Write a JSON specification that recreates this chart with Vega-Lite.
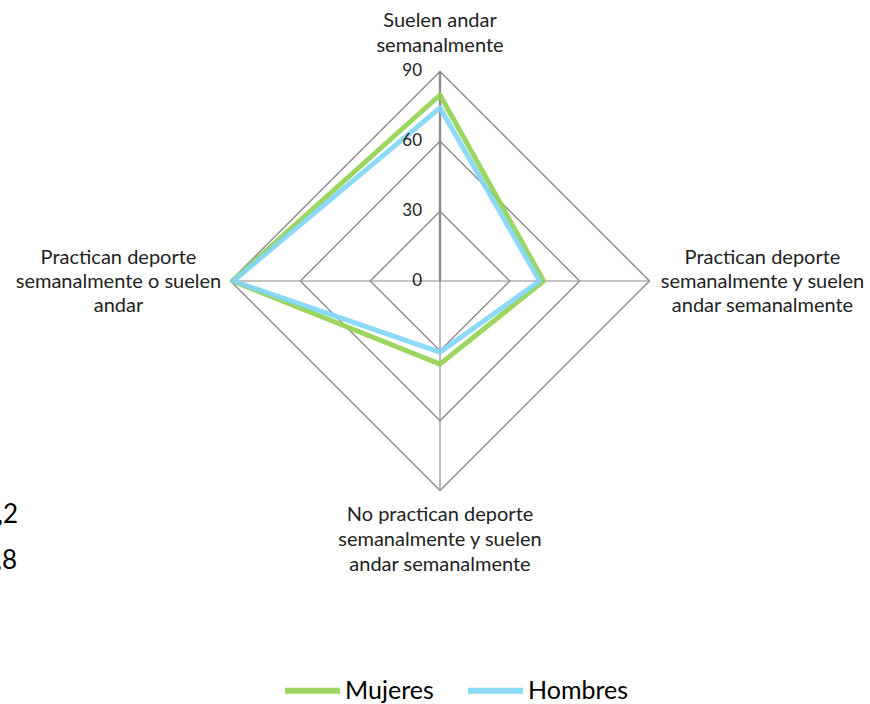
{
  "$schema": "https://vega.github.io/schema/vega-lite/v6.json",
  "width": 870,
  "height": 704,
  "padding": 0,
  "autosize": "none",
  "background": "white",
  "config": {
    "view": {"stroke": null},
    "font": "Lato",
    "legend": {
      "orient": "none",
      "legendX": 282,
      "legendY": 660,
      "direction": "horizontal",
      "symbolType": "stroke",
      "symbolSize": 3025,
      "symbolStrokeWidth": 6,
      "labelFont": "Lato",
      "labelFontSize": 25,
      "labelColor": "#000000",
      "labelOffset": 2,
      "columnPadding": 22,
      "padding": 0,
      "title": null
    }
  },
  "datasets": {
    "series": [
      {"serie": "Mujeres", "eje": "Suelen andar semanalmente", "orden": 0, "valor": 79.9},
      {"serie": "Mujeres", "eje": "Practican deporte semanalmente y suelen andar semanalmente", "orden": 1, "valor": 44.5},
      {"serie": "Mujeres", "eje": "No practican deporte semanalmente y suelen andar semanalmente", "orden": 2, "valor": 35.7},
      {"serie": "Mujeres", "eje": "Practican deporte semanalmente o suelen andar", "orden": 3, "valor": 89.2},
      {"serie": "Hombres", "eje": "Suelen andar semanalmente", "orden": 0, "valor": 74.4},
      {"serie": "Hombres", "eje": "Practican deporte semanalmente y suelen andar semanalmente", "orden": 1, "valor": 42.8},
      {"serie": "Hombres", "eje": "No practican deporte semanalmente y suelen andar semanalmente", "orden": 2, "valor": 30.6},
      {"serie": "Hombres", "eje": "Practican deporte semanalmente o suelen andar", "orden": 3, "valor": 88.8}
    ],
    "ejes": [
      {"orden": 0, "etiqueta": "Suelen andar\nsemanalmente"},
      {"orden": 1, "etiqueta": "Practican deporte\nsemanalmente y suelen\nandar semanalmente"},
      {"orden": 2, "etiqueta": "No practican deporte\nsemanalmente y suelen\nandar semanalmente"},
      {"orden": 3, "etiqueta": "Practican deporte\nsemanalmente o suelen\nandar"}
    ],
    "niveles": [{"nivel": 0}, {"nivel": 30}, {"nivel": 60}, {"nivel": 90}],
    "rejilla": [
      {"nivel": 30, "orden": 0}, {"nivel": 30, "orden": 1}, {"nivel": 30, "orden": 2}, {"nivel": 30, "orden": 3},
      {"nivel": 60, "orden": 0}, {"nivel": 60, "orden": 1}, {"nivel": 60, "orden": 2}, {"nivel": 60, "orden": 3},
      {"nivel": 90, "orden": 0}, {"nivel": 90, "orden": 1}, {"nivel": 90, "orden": 2}, {"nivel": 90, "orden": 3}
    ]
  },
  "layer": [
    {
      "data": {"name": "rejilla"},
      "transform": [
        {"calculate": "datum.nivel * sin(datum.orden * PI / 2)", "as": "px"},
        {"calculate": "datum.nivel * cos(datum.orden * PI / 2)", "as": "py"}
      ],
      "mark": {"type": "line", "interpolate": "linear-closed", "color": "#8C8C8C", "strokeWidth": 1.4},
      "encoding": {
        "x": {"field": "px", "type": "quantitative", "scale": {"domain": [-189.02, 184.72], "nice": false, "zero": false}, "axis": null},
        "y": {"field": "py", "type": "quantitative", "scale": {"domain": [-181.72, 120.71], "nice": false, "zero": false}, "axis": null},
        "detail": {"field": "nivel", "type": "nominal"},
        "order": {"field": "orden", "type": "quantitative"}
      }
    },
    {
      "data": {"name": "ejes"},
      "transform": [
        {"calculate": "90 * sin(datum.orden * PI / 2)", "as": "px"},
        {"calculate": "90 * cos(datum.orden * PI / 2)", "as": "py"}
      ],
      "mark": {"type": "rule", "color": "#8C8C8C"},
      "encoding": {
        "x": {"field": "px", "type": "quantitative", "scale": {"domain": [-189.02, 184.72], "nice": false, "zero": false}, "axis": null},
        "y": {"field": "py", "type": "quantitative", "scale": {"domain": [-181.72, 120.71], "nice": false, "zero": false}, "axis": null},
        "x2": {"datum": 0},
        "y2": {"datum": 0},
        "strokeWidth": {"condition": {"test": "datum.orden === 0", "value": 2.4}, "value": 1.2}
      }
    },
    {
      "data": {"name": "series"},
      "transform": [
        {"calculate": "datum.valor * sin(datum.orden * PI / 2)", "as": "px"},
        {"calculate": "datum.valor * cos(datum.orden * PI / 2)", "as": "py"}
      ],
      "mark": {"type": "line", "interpolate": "linear-closed", "strokeWidth": 5, "strokeJoin": "round", "opacity": 0.9},
      "encoding": {
        "x": {"field": "px", "type": "quantitative", "scale": {"domain": [-189.02, 184.72], "nice": false, "zero": false}, "axis": null},
        "y": {"field": "py", "type": "quantitative", "scale": {"domain": [-181.72, 120.71], "nice": false, "zero": false}, "axis": null},
        "color": {"field": "serie", "type": "nominal", "scale": {"domain": ["Mujeres", "Hombres"], "range": ["#92D050", "#7FD6F7"]}},
        "order": {"field": "orden", "type": "quantitative"}
      }
    },
    {
      "data": {"name": "niveles"},
      "mark": {"type": "text", "align": "right", "baseline": "middle", "dx": -18, "fontSize": 17, "font": "Lato", "color": "#222222"},
      "encoding": {
        "x": {"datum": 0, "type": "quantitative", "scale": {"domain": [-189.02, 184.72], "nice": false, "zero": false}, "axis": null},
        "y": {"field": "nivel", "type": "quantitative", "scale": {"domain": [-181.72, 120.71], "nice": false, "zero": false}, "axis": null},
        "text": {"field": "nivel", "type": "quantitative"}
      }
    },
    {
      "data": {"name": "ejes"},
      "transform": [
        {"filter": "datum.orden === 0"},
        {"calculate": "90 * sin(datum.orden * PI / 2)", "as": "px"},
        {"calculate": "90 * cos(datum.orden * PI / 2)", "as": "py"}
      ],
      "mark": {"type": "text", "align": "center", "baseline": "middle", "dy": -50, "fontSize": 20, "lineHeight": 24.5, "lineBreak": "\n", "font": "Lato", "color": "#222222"},
      "encoding": {
        "x": {"field": "px", "type": "quantitative", "scale": {"domain": [-189.02, 184.72], "nice": false, "zero": false}, "axis": null},
        "y": {"field": "py", "type": "quantitative", "scale": {"domain": [-181.72, 120.71], "nice": false, "zero": false}, "axis": null},
        "text": {"field": "etiqueta", "type": "nominal"}
      }
    },
    {
      "data": {"name": "ejes"},
      "transform": [
        {"filter": "datum.orden === 1"},
        {"calculate": "90 * sin(datum.orden * PI / 2)", "as": "px"},
        {"calculate": "90 * cos(datum.orden * PI / 2)", "as": "py"}
      ],
      "mark": {"type": "text", "align": "center", "baseline": "middle", "dx": 113, "dy": -23, "fontSize": 20, "lineHeight": 24, "lineBreak": "\n", "font": "Lato", "color": "#222222"},
      "encoding": {
        "x": {"field": "px", "type": "quantitative", "scale": {"domain": [-189.02, 184.72], "nice": false, "zero": false}, "axis": null},
        "y": {"field": "py", "type": "quantitative", "scale": {"domain": [-181.72, 120.71], "nice": false, "zero": false}, "axis": null},
        "text": {"field": "etiqueta", "type": "nominal"}
      }
    },
    {
      "data": {"name": "ejes"},
      "transform": [
        {"filter": "datum.orden === 2"},
        {"calculate": "90 * sin(datum.orden * PI / 2)", "as": "px"},
        {"calculate": "90 * cos(datum.orden * PI / 2)", "as": "py"}
      ],
      "mark": {"type": "text", "align": "center", "baseline": "middle", "dy": 25, "fontSize": 20, "lineHeight": 25, "lineBreak": "\n", "font": "Lato", "color": "#222222"},
      "encoding": {
        "x": {"field": "px", "type": "quantitative", "scale": {"domain": [-189.02, 184.72], "nice": false, "zero": false}, "axis": null},
        "y": {"field": "py", "type": "quantitative", "scale": {"domain": [-181.72, 120.71], "nice": false, "zero": false}, "axis": null},
        "text": {"field": "etiqueta", "type": "nominal"}
      }
    },
    {
      "data": {"name": "ejes"},
      "transform": [
        {"filter": "datum.orden === 3"},
        {"calculate": "90 * sin(datum.orden * PI / 2)", "as": "px"},
        {"calculate": "90 * cos(datum.orden * PI / 2)", "as": "py"}
      ],
      "mark": {"type": "text", "align": "center", "baseline": "middle", "dx": -112, "dy": -23, "fontSize": 20, "lineHeight": 24, "lineBreak": "\n", "font": "Lato", "color": "#222222"},
      "encoding": {
        "x": {"field": "px", "type": "quantitative", "scale": {"domain": [-189.02, 184.72], "nice": false, "zero": false}, "axis": null},
        "y": {"field": "py", "type": "quantitative", "scale": {"domain": [-181.72, 120.71], "nice": false, "zero": false}, "axis": null},
        "text": {"field": "etiqueta", "type": "nominal"}
      }
    },
    {
      "data": {"values": [{"texto": "89,2"}]},
      "mark": {"type": "text", "align": "right", "baseline": "middle", "fontSize": 26, "font": "Lato", "color": "#000000"},
      "encoding": {
        "x": {"datum": -181.3, "type": "quantitative", "scale": {"domain": [-189.02, 184.72], "nice": false, "zero": false}, "axis": null},
        "y": {"datum": -100.5, "type": "quantitative", "scale": {"domain": [-181.72, 120.71], "nice": false, "zero": false}, "axis": null},
        "text": {"field": "texto", "type": "nominal"}
      }
    },
    {
      "data": {"values": [{"texto": "88,8"}]},
      "mark": {"type": "text", "align": "right", "baseline": "middle", "fontSize": 26, "font": "Lato", "color": "#000000"},
      "encoding": {
        "x": {"datum": -181.7, "type": "quantitative", "scale": {"domain": [-189.02, 184.72], "nice": false, "zero": false}, "axis": null},
        "y": {"datum": -120.3, "type": "quantitative", "scale": {"domain": [-181.72, 120.71], "nice": false, "zero": false}, "axis": null},
        "text": {"field": "texto", "type": "nominal"}
      }
    }
  ]
}
